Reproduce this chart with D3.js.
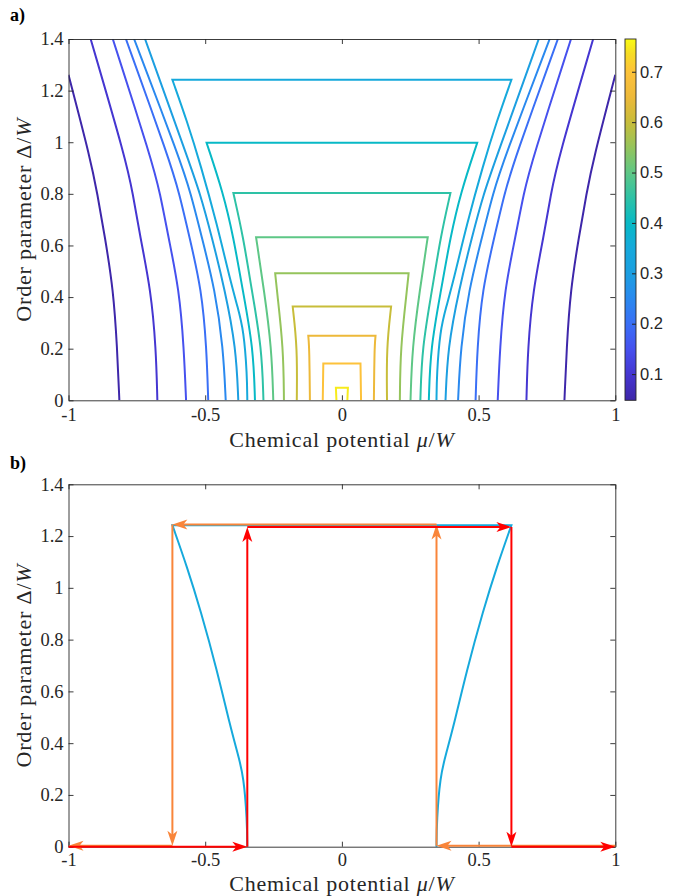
<!DOCTYPE html>
<html>
<head>
<meta charset="utf-8">
<script src="https://cdn.jsdelivr.net/npm/d3@7"></script>
<style>
  body { margin: 0; background: #fff; }
</style>
</head>
<body>
<div id="chart"></div>
<script>
var svgWidth = 680;
var svgHeight = 896;

// ---- data ----
var xTicks = [-1, -0.5, 0, 0.5, 1];
var yTicks = [0, 0.2, 0.4, 0.6, 0.8, 1, 1.2, 1.4];
var cbTicks = [0.1, 0.2, 0.3, 0.4, 0.5, 0.6, 0.7];
var cbLimits = [0.048, 0.765];

var contourLevels = [0.05, 0.10, 0.15, 0.20, 0.25, 0.30, 0.35, 0.40, 0.45, 0.50, 0.55, 0.60, 0.65, 0.70, 0.75];

// left half of every contour (mu, Delta), bottom -> top; right half is its mirror image
var contourLeft = [
  [[-0.814, 0], [-0.822, 0.203], [-0.836, 0.428], [-0.867, 0.634], [-0.895, 0.803], [-0.919, 0.932], [-1.0, 1.261]],
  [[-0.675, 0], [-0.680, 0.203], [-0.699, 0.428], [-0.738, 0.634], [-0.765, 0.803], [-0.790, 0.932], [-0.919, 1.4]],
  [[-0.570, 0], [-0.578, 0.203], [-0.595, 0.428], [-0.635, 0.634], [-0.665, 0.803], [-0.696, 0.932], [-0.838, 1.4]],
  [[-0.489, 0], [-0.495, 0.203], [-0.513, 0.428], [-0.558, 0.634], [-0.595, 0.803], [-0.631, 0.932], [-0.790, 1.4]],
  [[-0.425, 0], [-0.434, 0.203], [-0.464, 0.428], [-0.513, 0.634], [-0.553, 0.803], [-0.592, 0.932], [-0.760, 1.4]],
  [[-0.379, 0], [-0.387, 0.203], [-0.428, 0.428], [-0.476, 0.634], [-0.519, 0.803], [-0.562, 0.932], [-0.720, 1.4]],
  [[-0.346, 0], [-0.347, 0.1], [-0.359, 0.27], [-0.381, 0.36], [-0.408, 0.463], [-0.457, 0.683], [-0.517, 0.913], [-0.566, 1.08], [-0.620, 1.242]],
  [[-0.318, 0], [-0.324, 0.203], [-0.363, 0.428], [-0.397, 0.634], [-0.434, 0.803], [-0.495, 0.998]],
  [[-0.287, 0], [-0.293, 0.203], [-0.330, 0.428], [-0.361, 0.634], [-0.397, 0.803]],
  [[-0.251, 0], [-0.257, 0.203], [-0.285, 0.428], [-0.314, 0.632]],
  [[-0.212, 0], [-0.214, 0.203], [-0.238, 0.428], [-0.244, 0.492]],
  [[-0.165, 0], [-0.163, 0.203], [-0.180, 0.363]],
  [[-0.117, 0], [-0.119, 0.203], [-0.123, 0.250]],
  [[-0.070, 0], [-0.068, 0.143]],
  [[-0.020, 0], [-0.022, 0.049]]
];

// panel b: the 0.35 contour plus the two sweeps
var hysteresisLevel = 0.35;
var sweepUp = [[-1, 0], [-0.346, 0], [-0.346, 1.235], [0.62, 1.235], [0.62, 0], [1, 0]];
var sweepDown = [[1, 0.004], [0.346, 0.004], [0.346, 1.245], [-0.62, 1.245], [-0.62, 0.004], [-1, 0.004]];

// parula-like colormap
var parulaPos = [0, 0.07, 0.14, 0.21, 0.28, 0.35, 0.42, 0.49, 0.56, 0.63, 0.70, 0.77, 0.84, 0.91, 0.96, 1];
var parulaCol = ["#3e26a8", "#4535d0", "#4650ee", "#3a6ef6", "#2a88ef", "#1c9fe1", "#16a9dc", "#07b9c6",
                 "#2ec2a6", "#5ec786", "#95c45c", "#c8bd3a", "#edb93a", "#fdc23b", "#f6dc24", "#f9fb14"];

var axisColor = "#262626";
var serif = "'Liberation Serif', 'Times New Roman', serif";
var sans = "'Liberation Sans', Arial, sans-serif";

var parula = d3.scaleLinear().domain(parulaPos).range(parulaCol).interpolate(d3.interpolateRgb);
var levelColor = function(v) {
  return parula((v - cbLimits[0]) / (cbLimits[1] - cbLimits[0]));
};

var svg = d3.select("#chart")
  .append("svg")
  .attr("width", svgWidth)
  .attr("height", svgHeight);

var xScale = d3.scaleLinear().domain([-1, 1]).range([68.5, 615.3]);
var yTop = d3.scaleLinear().domain([0, 1.4]).range([400.3, 39]);
var yBot = d3.scaleLinear().domain([0, 1.4]).range([846.7, 484.3]);

function fmt(d) { return String(d); }

function drawFrame(y, tickPad, xLabelGap) {
  var g = svg.append("g");
  var x0 = xScale.range()[0], x1 = xScale.range()[1];
  var yb = y.range()[0], yt = y.range()[1];

  var styleAxis = function(sel) {
    sel.attr("font-size", 18.5).attr("font-family", serif).attr("color", axisColor);
    sel.select(".domain").attr("stroke-width", 0.9);
    sel.selectAll(".tick line").attr("stroke-width", 0.9);
  };

  g.append("g").attr("transform", `translate(0, ${yb})`)
    .call(d3.axisBottom(xScale).tickValues(xTicks).tickSize(-5).tickSizeOuter(0).tickPadding(tickPad).tickFormat(fmt))
    .call(styleAxis);
  g.append("g").attr("transform", `translate(0, ${yt})`)
    .call(d3.axisTop(xScale).tickValues(xTicks).tickSize(-5).tickSizeOuter(0).tickFormat(""))
    .call(styleAxis);
  g.append("g").attr("transform", `translate(${x0}, 0)`)
    .call(d3.axisLeft(y).tickValues(yTicks).tickSize(-5).tickSizeOuter(0).tickPadding(5).tickFormat(fmt))
    .call(styleAxis);
  g.append("g").attr("transform", `translate(${x1}, 0)`)
    .call(d3.axisRight(y).tickValues(yTicks).tickSize(-5).tickSizeOuter(0).tickFormat(""))
    .call(styleAxis);

  // x label
  var xl = g.append("text")
    .attr("x", (x0 + x1) / 2)
    .attr("y", yb + xLabelGap)
    .attr("text-anchor", "middle")
    .attr("font-family", serif)
    .attr("font-size", 22)
    .attr("letter-spacing", 0.8)
    .attr("fill", axisColor);
  xl.append("tspan").text("Chemical potential ");
  xl.append("tspan").attr("font-style", "italic").text("\u03bc");
  xl.append("tspan").text("/");
  xl.append("tspan").attr("font-style", "italic").text("W");

  // y label
  var yl = g.append("text")
    .attr("transform", `translate(31, ${(yb + yt) / 2}) rotate(-90)`)
    .attr("text-anchor", "middle")
    .attr("font-family", serif)
    .attr("font-size", 22)
    .attr("letter-spacing", 0.8)
    .attr("fill", axisColor);
  yl.append("tspan").text("Order parameter \u0394/");
  yl.append("tspan").attr("font-style", "italic").text("W");
}

// smooth B-spline through the traced points, mirrored for the right half
function contourPath(left, y) {
  var line = d3.line()
    .x(d => xScale(d[0]))
    .y(d => y(d[1]))
    .curve(d3.curveBasis);
  var right = left.map(p => [-p[0], p[1]]).reverse();
  var top = left[left.length - 1];
  var capped = top[1] < 1.3 && top[0] > -0.99;
  var a = line(left), b = line(right);
  return capped ? a + "L" + b.slice(1) : a + b;
}

function drawArrows(g, pts, color, y) {
  for (var i = 0; i < pts.length - 1; i++) {
    var p0 = [xScale(pts[i][0]), y(pts[i][1])];
    var p1 = [xScale(pts[i + 1][0]), y(pts[i + 1][1])];
    var dx = p1[0] - p0[0], dy = p1[1] - p0[1];
    var len = Math.hypot(dx, dy);
    var ux = dx / len, uy = dy / len;
    g.append("line")
      .attr("x1", p0[0]).attr("y1", p0[1])
      .attr("x2", p1[0] - ux * 10).attr("y2", p1[1] - uy * 10)
      .attr("stroke", color)
      .attr("stroke-width", 2);
    var ang = Math.atan2(dy, dx) * 180 / Math.PI;
    g.append("path")
      .attr("d", "M0,0L-15,-5L-11,0L-15,5Z")
      .attr("transform", `translate(${p1[0]}, ${p1[1]}) rotate(${ang})`)
      .attr("fill", color);
  }
}

// ================= panel a =================
svg.append("clipPath").attr("id", "clipA")
  .append("rect")
  .attr("x", xScale(-1)).attr("y", yTop(1.4))
  .attr("width", xScale(1) - xScale(-1))
  .attr("height", yTop(0) - yTop(1.4));

var contourGroup = svg.append("g").attr("clip-path", "url(#clipA)");
contourGroup.selectAll("path")
  .data(contourLevels)
  .enter()
  .append("path")
  .attr("d", (d, i) => contourPath(contourLeft[i], yTop))
  .attr("fill", "none")
  .attr("stroke", d => levelColor(d))
  .attr("stroke-width", 2)
  .attr("stroke-linejoin", "miter");

drawFrame(yTop, 8, 47);

// colorbar
var cbScale = d3.scaleLinear().domain(cbLimits).range([yTop(0), yTop(1.4)]);
var grad = svg.append("defs").append("linearGradient")
  .attr("id", "parulaGrad")
  .attr("x1", 0).attr("y1", 1).attr("x2", 0).attr("y2", 0);
d3.range(0, 1.0001, 0.02).forEach(function(t) {
  grad.append("stop").attr("offset", t).attr("stop-color", parula(t));
});
svg.append("rect")
  .attr("x", 625).attr("y", cbScale.range()[1])
  .attr("width", 11)
  .attr("height", cbScale.range()[0] - cbScale.range()[1])
  .attr("fill", "url(#parulaGrad)")
  .attr("stroke", axisColor)
  .attr("stroke-width", 0.9);
svg.append("g")
  .attr("transform", "translate(636, 0)")
  .call(d3.axisRight(cbScale).tickValues(cbTicks).tickSize(-4).tickSizeOuter(0).tickPadding(4).tickFormat(d3.format(".1f")))
  .call(function(sel) {
    sel.attr("font-size", 16.5).attr("font-family", sans).attr("color", axisColor);
    sel.select(".domain").remove();
  });

svg.append("text")
  .attr("x", 10).attr("y", 21)
  .attr("font-family", serif).attr("font-weight", "bold").attr("font-size", 18)
  .attr("fill", "#000")
  .text("a)");

// ================= panel b =================
var panelB = svg.append("g");
var hi = contourLevels.indexOf(hysteresisLevel);
panelB.append("path")
  .attr("d", contourPath(contourLeft[hi], yBot))
  .attr("fill", "none")
  .attr("stroke", levelColor(hysteresisLevel))
  .attr("stroke-width", 2);

drawFrame(yBot, 6, 44);

var arrowGroup = svg.append("g");
drawArrows(arrowGroup, sweepDown, "#f9853a", yBot);
drawArrows(arrowGroup, sweepUp, "#ff0000", yBot);

svg.append("text")
  .attr("x", 10).attr("y", 469)
  .attr("font-family", serif).attr("font-weight", "bold").attr("font-size", 18)
  .attr("fill", "#000")
  .text("b)");
</script>
</body>
</html>
